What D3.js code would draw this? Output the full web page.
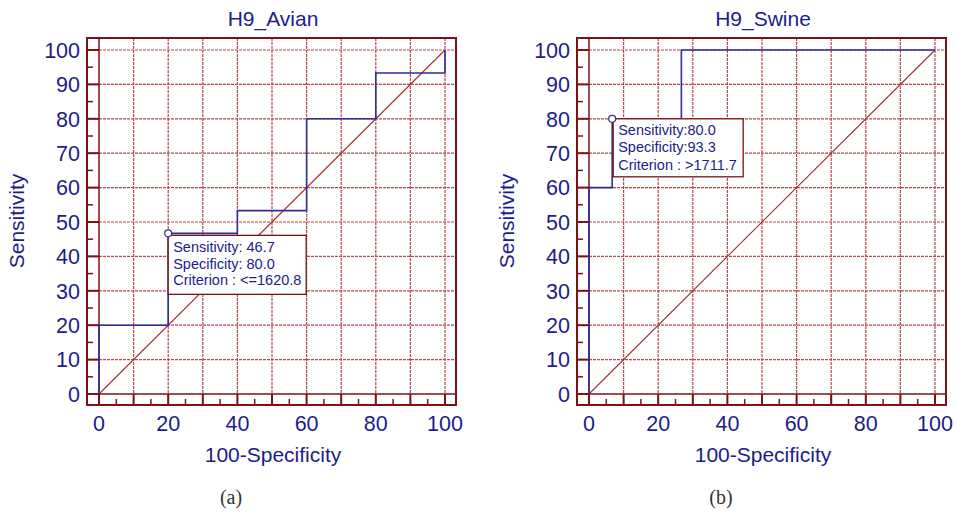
<!DOCTYPE html>
<html>
<head>
<meta charset="utf-8">
<script src="https://cdn.jsdelivr.net/npm/d3@7"></script>
<style>
  body { margin: 0; background: #fff; }
  svg { display: block; }
</style>
</head>
<body>
<svg id="chart" width="957" height="516"></svg>
<script>
// ROC curve points (100-Specificity, Sensitivity)
const avianX = [0, 0, 20, 20, 40, 40, 60, 60, 80, 80, 100, 100];
const avianY = [0, 20, 20, 46.7, 46.7, 53.3, 53.3, 80, 80, 93.3, 93.3, 100];
const swineX = [0, 0, 6.7, 6.7, 26.7, 26.7, 100];
const swineY = [0, 60, 60, 80, 80, 100, 100];

const avianCut = [20, 46.7];
const swineCut = [6.7, 80];
const avianNote = ['Sensitivity: 46.7', 'Specificity: 80.0', 'Criterion : <=1620.8'];
const swineNote = ['Sensitivity:80.0', 'Specificity:93.3', 'Criterion : >1711.7'];

const titles = ['H9_Avian', 'H9_Swine'];
const captions = ['(a)', '(b)'];
const ticks = [0, 10, 20, 30, 40, 50, 60, 70, 80, 90, 100];
const xLabels = [0, 20, 40, 60, 80, 100];

const navy = '#1c1c8c';
const frameRed = '#7d1212';
const gridRed = '#b44a4a';
const font = 'Liberation Sans, Arial, sans-serif';

const svg = d3.select('#chart');

function panel(ox, title, caption, xs, ys, cut, note, boxPos) {
  const g = svg.append('g').attr('transform', `translate(${ox},0)`);
  const x = d3.scaleLinear().domain([0, 100]).range([99, 445]);
  const y = d3.scaleLinear().domain([0, 100]).range([394, 50]);
  const fx0 = 87, fx1 = 456, fy0 = 38, fy1 = 405;

  // grid
  g.selectAll('.vg').data(ticks.slice(1)).join('line')
    .attr('x1', d => x(d)).attr('x2', d => x(d))
    .attr('y1', fy0).attr('y2', fy1)
    .attr('stroke', gridRed).attr('stroke-width', 1.2)
    .attr('stroke-dasharray', '3,1');
  g.selectAll('.hg').data(ticks.slice(1)).join('line')
    .attr('x1', fx0).attr('x2', fx1)
    .attr('y1', d => y(d)).attr('y2', d => y(d))
    .attr('stroke', gridRed).attr('stroke-width', 1.2)
    .attr('stroke-dasharray', '3,1');
  // zero lines
  g.append('line').attr('x1', fx0).attr('x2', fx1).attr('y1', y(0)).attr('y2', y(0))
    .attr('stroke', frameRed).attr('stroke-width', 1.5);
  g.append('line').attr('x1', x(0)).attr('x2', x(0)).attr('y1', fy0).attr('y2', fy1)
    .attr('stroke', frameRed).attr('stroke-width', 1.5);

  // diagonal
  g.append('line').attr('x1', x(0)).attr('y1', y(0)).attr('x2', x(100)).attr('y2', y(100))
    .attr('stroke', '#a82a2a').attr('stroke-width', 1.1);

  // frame
  g.append('rect').attr('x', fx0).attr('y', fy0)
    .attr('width', fx1 - fx0).attr('height', fy1 - fy0)
    .attr('fill', 'none').attr('stroke', frameRed).attr('stroke-width', 2);

  // ticks
  const minor = d3.range(5, 100, 10);
  g.selectAll('.yt').data(ticks).join('line')
    .attr('x1', fx0).attr('x2', fx0 + 12).attr('y1', d => y(d)).attr('y2', d => y(d))
    .attr('stroke', frameRed).attr('stroke-width', 2);
  g.selectAll('.ym').data(minor).join('line')
    .attr('x1', fx0).attr('x2', fx0 + 6).attr('y1', d => y(d)).attr('y2', d => y(d))
    .attr('stroke', frameRed).attr('stroke-width', 1.5);
  g.selectAll('.xt').data(ticks).join('line')
    .attr('x1', d => x(d)).attr('x2', d => x(d)).attr('y1', fy1).attr('y2', fy1 - 11)
    .attr('stroke', frameRed).attr('stroke-width', 2);
  g.selectAll('.xm').data(minor).join('line')
    .attr('x1', d => x(d)).attr('x2', d => x(d)).attr('y1', fy1).attr('y2', fy1 - 6)
    .attr('stroke', frameRed).attr('stroke-width', 1.5);

  // tick labels
  g.selectAll('.yl').data(ticks).join('text')
    .attr('x', 80).attr('y', d => y(d)).attr('dy', '0.36em')
    .attr('text-anchor', 'end').attr('fill', navy)
    .attr('font-family', font).attr('font-size', 21.5).text(d => d);
  g.selectAll('.xl').data(xLabels).join('text')
    .attr('x', d => x(d)).attr('y', 431)
    .attr('text-anchor', 'middle').attr('fill', navy)
    .attr('font-family', font).attr('font-size', 21.5).text(d => d);

  // axis titles
  g.append('text').attr('x', 273).attr('y', 462).attr('text-anchor', 'middle')
    .attr('fill', navy).attr('font-family', font).attr('font-size', 21).text('100-Specificity');
  g.append('text').attr('transform', `translate(24,221) rotate(-90)`).attr('text-anchor', 'middle')
    .attr('fill', navy).attr('font-family', font).attr('font-size', 21).text('Sensitivity');
  g.append('text').attr('x', 273).attr('y', 26).attr('text-anchor', 'middle')
    .attr('fill', navy).attr('font-family', font).attr('font-size', 21).text(title);

  // ROC curve
  const line = d3.line().x(d => x(d[0])).y(d => y(d[1]));
  g.append('path').datum(d3.zip(xs, ys)).attr('d', line)
    .attr('fill', 'none').attr('stroke', '#2e2e9a').attr('stroke-width', 1.6);

  // annotation box
  const bx = x(cut[0]) + boxPos[0], by = y(cut[1]) + boxPos[1];
  g.append('rect').attr('x', bx).attr('y', by).attr('width', boxPos[2]).attr('height', boxPos[3])
    .attr('fill', '#fff').attr('stroke', frameRed).attr('stroke-width', 1.3);
  g.selectAll('.note').data(note).join('text')
    .attr('x', bx + 5).attr('y', (d, i) => by + boxPos[5] + i * boxPos[4])
    .attr('fill', navy).attr('font-family', font).attr('font-size', 14.5).text(d => d);
  g.append('circle').attr('cx', x(cut[0])).attr('cy', y(cut[1])).attr('r', 3.5)
    .attr('fill', '#fff').attr('stroke', '#2e2e9a').attr('stroke-width', 1.2);

  // caption
  svg.append('text').attr('x', ox + 231).attr('y', 504).attr('text-anchor', 'middle')
    .attr('fill', '#333').attr('font-family', 'Liberation Serif, DejaVu Serif, serif')
    .attr('font-size', 20).text(caption);
}

panel(0, titles[0], captions[0], avianX, avianY, avianCut, avianNote, [0, 2, 138, 59, 16.5, 17]);
panel(490, titles[1], captions[1], swineX, swineY, swineCut, swineNote, [1, 0, 130, 58, 17.5, 16]);
</script>
</body>
</html>
